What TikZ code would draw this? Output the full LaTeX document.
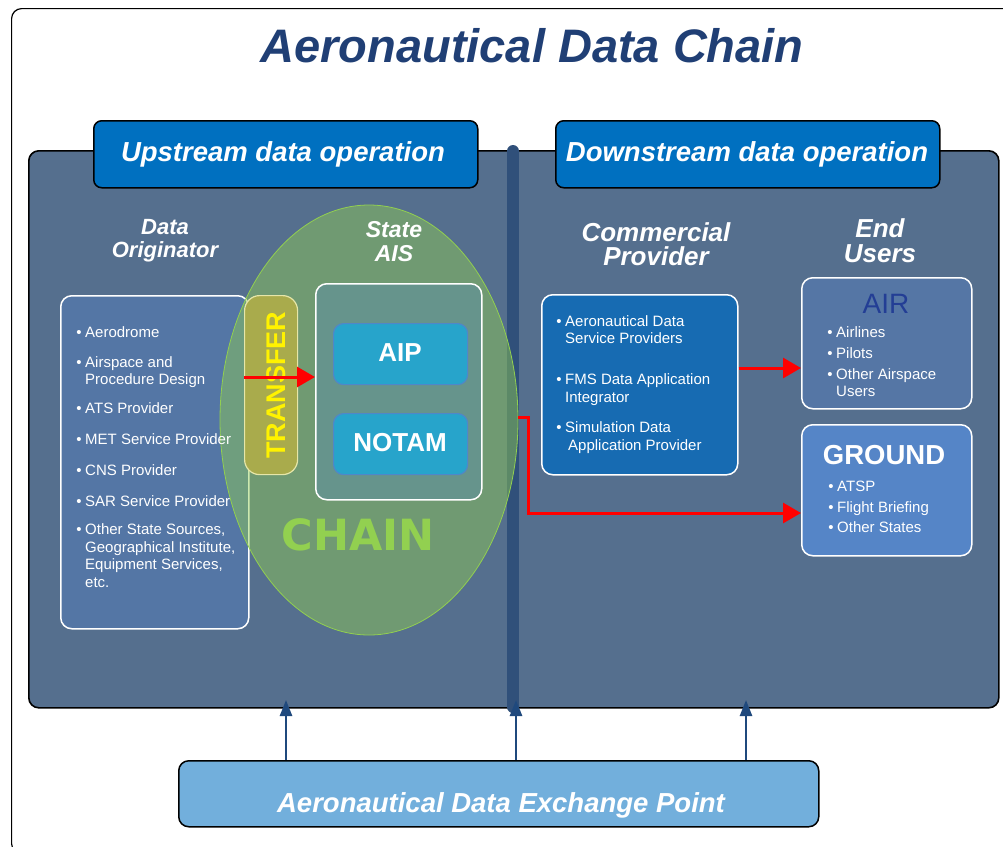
\documentclass[tikz,border=0pt]{standalone}
\usepackage{fontspec}
\setmainfont{Liberation Sans}
\newfontfamily\chainfont{DejaVu Sans}
\usetikzlibrary{arrows.meta,shapes.geometric}
\definecolor{titleblue}{HTML}{203F75}
\definecolor{panel}{HTML}{556F8E}
\definecolor{divider}{HTML}{30507A}
\definecolor{tabblue}{HTML}{0070C0}
\definecolor{origfill}{HTML}{5476A5}
\definecolor{chaingreen}{HTML}{92D050}
\definecolor{aisfill}{HTML}{66948C}
\definecolor{aipfill}{HTML}{27A4CB}
\definecolor{aipdraw}{HTML}{4F87C9}
\definecolor{transfill}{HTML}{A9AB4C}
\definecolor{transdraw}{HTML}{E6E6A8}
\definecolor{commfill}{HTML}{176BB2}
\definecolor{airfill}{HTML}{5576A5}
\definecolor{airtext}{HTML}{233E95}
\definecolor{groundfill}{HTML}{5585C7}
\definecolor{exchfill}{HTML}{72AFDC}
\definecolor{arrowblue}{HTML}{1F497D}
\newcommand\bitem[4]{\node[item] (#1) at (#2,#3) {\llap{\textbullet\hspace{3.5pt}}#4};}
\newcommand\citem[4]{\node[item] (#1) at (#2,#3) {#4};}
\begin{document}
\begin{tikzpicture}[x=1pt,y=-1pt,
  item/.style={font=\fontsize{15}{17}\selectfont, text=white, anchor=base west, inner sep=0},
  hdr/.style={font=\bfseries\itshape\fontsize{27.5}{30}\selectfont, text=white, anchor=base, inner sep=0},
  lbl/.style={font=\bfseries\itshape\fontsize{22}{24}\selectfont, text=white, anchor=base, inner sep=0},
  lblbig/.style={font=\bfseries\itshape\fontsize{26}{28}\selectfont, text=white, anchor=base, inner sep=0},
  tab/.style={draw=black, line width=1.5, fill=tabblue, rounded corners=8, anchor=north west, minimum width=384, minimum height=67, inner sep=0},
  wbox/.style={draw=white, line width=1.5, rounded corners=11, anchor=north west, inner sep=0},
  inbox/.style={draw=aipdraw, line width=1.2, fill=aipfill, rounded corners=10, anchor=north west, minimum width=134, minimum height=61, inner sep=0},
  redarrow/.style={draw=red, line width=3, -{Triangle[length=18,width=20]}},
  bluearrow/.style={draw=arrowblue, line width=2.5, -{Triangle[length=16,width=12]}}
]
\useasboundingbox (0,0) rectangle (1003,846);
\clip (0,0) rectangle (1003,846);
\fill[white] (0,0) rectangle (1003,846);
% outer frame
\node[draw=black, line width=1.2, rounded corners=10, minimum width=1010, minimum height=845, anchor=north west, inner sep=0] (frame) at (11,8) {};
% title
\node[font=\bfseries\itshape\fontsize{47}{50}\selectfont, text=titleblue, anchor=base, inner sep=0] (title) at (532,62) {Aeronautical Data Chain};
% main panel
\node[draw=black, line width=1.6, fill=panel, rounded corners=10, minimum width=970, minimum height=557, anchor=north west, inner sep=0] (panel) at (28,150) {};
% divider
\coordinate (dtop) at (513,151);
\coordinate (dbot) at (513,707);
\draw[divider, line width=12, line cap=round] (dtop) -- (dbot);
% tabs
\node[tab] (up) at (93,120) {};
\node[tab] (down) at (555,120) {};
\node[hdr] (uptext) at (283,161) {Upstream data operation};
\node[hdr] (downtext) at (747,161) {Downstream data operation};
% data originator
\node[wbox, fill=origfill, minimum width=188, minimum height=333] (orig) at (60,295) {};
% chain ellipse
\node[ellipse, draw=chaingreen, line width=0.8, fill=chaingreen, fill opacity=0.45, minimum width=298, minimum height=430, inner sep=0] (chain) at (369,420) {};
% transfer
\node[draw=transdraw, line width=1.2, fill=transfill, rounded corners=15, anchor=north west, minimum width=53, minimum height=179, inner sep=0] (transfer) at (244,295) {};
\node[rotate=90, font=\bfseries\fontsize{27}{27}\selectfont, text=yellow, inner sep=0] (transtext) at (276,385) {TRANSFER};
% AIS
\node[wbox, fill=aisfill, minimum width=166, minimum height=216] (ais) at (315,283) {};
\node[inbox] (aip) at (333,323) {};
\node[inbox] (notam) at (333,413) {};
\node[font=\bfseries\fontsize{26}{26}\selectfont, text=white, anchor=base, inner sep=0] (aiptext) at (400,361) {AIP};
\node[font=\bfseries\fontsize{26}{26}\selectfont, text=white, anchor=base, inner sep=0] (notamtext) at (400,451) {NOTAM};
\node[font=\chainfont\bfseries\fontsize{43}{43}\selectfont, text=chaingreen, anchor=base, inner sep=0] (chaintext) at (358,550) {CHAIN};
% commercial, air, ground
\node[wbox, fill=commfill, minimum width=196, minimum height=180] (comm) at (541,294) {};
\node[wbox, fill=airfill, minimum width=170, minimum height=131] (air) at (801,277) {};
\node[wbox, fill=groundfill, minimum width=170, minimum height=131] (ground) at (801,424) {};
% labels
\node[lbl] (do1) at (165,234) {Data};
\node[lbl] (do2) at (165,257) {Originator};
\node[lbl, font=\bfseries\itshape\fontsize{23}{24}\selectfont] (sa1) at (394,237) {State};
\node[lbl, font=\bfseries\itshape\fontsize{23}{24}\selectfont] (sa2) at (394,261) {AIS};
\node[lblbig] (cp1) at (656,241) {Commercial};
\node[lblbig] (cp2) at (656,265) {Provider};
\node[lblbig] (eu1) at (880,237) {End};
\node[lblbig] (eu2) at (880,262) {Users};
% data originator items
\bitem{o1}{85}{337}{Aerodrome}
\bitem{o2}{85}{367}{Airspace and}
\citem{o2b}{85}{384}{Procedure Design}
\bitem{o3}{85}{413}{ATS Provider}
\bitem{o4}{85}{444}{MET Service Provider}
\bitem{o5}{85}{475}{CNS Provider}
\bitem{o6}{85}{506}{SAR Service Provider}
\bitem{o7}{85}{534}{Other State Sources,}
\citem{o7b}{85}{552}{Geographical Institute,}
\citem{o7c}{85}{569}{Equipment Services,}
\citem{o7d}{85}{587}{etc.}
% commercial items
\bitem{c1}{565}{326}{Aeronautical Data}
\citem{c1b}{565}{343}{Service Providers}
\bitem{c2}{565}{384}{FMS Data Application}
\citem{c2b}{565}{402}{Integrator}
\bitem{c3}{565}{432}{Simulation Data}
\citem{c3b}{568}{450}{Application Provider}
% air
\node[font=\fontsize{28}{28}\selectfont, text=airtext, anchor=base, inner sep=0] (airtitle) at (886,313) {AIR};
\bitem{a1}{836}{337}{Airlines}
\bitem{a2}{836}{358}{Pilots}
\bitem{a3}{836}{379}{Other Airspace}
\citem{a3b}{836}{396}{Users}
% ground
\node[font=\bfseries\fontsize{27.5}{28}\selectfont, text=white, anchor=base, inner sep=0] (groundtitle) at (884,464) {GROUND};
\bitem{g1}{837}{491}{ATSP}
\bitem{g2}{837}{512}{Flight Briefing}
\bitem{g3}{837}{532}{Other States}
% red connectors
\coordinate (ytr) at (300,377);
\draw[redarrow] (transfer.west |- ytr) -- (ais.west |- ytr);
\coordinate (yair) at (700,368);
\draw[redarrow] (comm.east |- yair) -- (air.west |- yair);
\coordinate (yout) at (520,417);
\coordinate (bend) at (528,417);
\coordinate (yground) at (700,513);
\draw[redarrow] (chain.east |- yout) -- (bend) |- (ground.west |- yground);
% exchange point
\node[draw=black, line width=1.5, fill=exchfill, rounded corners=10, anchor=north west, minimum width=640, minimum height=66, inner sep=0] (exch) at (178,760) {};
\node[hdr] (exchtext) at (501,812) {Aeronautical Data Exchange Point};
\coordinate (t1) at (286,700);
\coordinate (t2) at (516,700);
\coordinate (t3) at (746,700);
\draw[bluearrow] (exch.north -| t1) -- (t1);
\draw[bluearrow] (exch.north -| t2) -- (t2);
\draw[bluearrow] (exch.north -| t3) -- (t3);
\end{tikzpicture}
\end{document}
